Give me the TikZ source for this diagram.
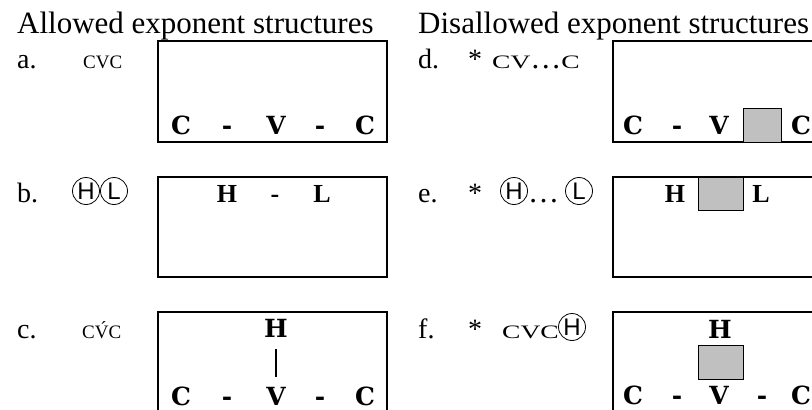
\documentclass[tikz,border=0pt]{standalone}
\usepackage{fontspec}
\setmainfont{Liberation Serif}
\newfontfamily\circfont{Liberation Sans}
\newfontfamily\segfont{DejaVu Serif}
\newfontfamily\widefont{Liberation Serif}[FakeStretch=1.45]
\definecolor{slot}{RGB}{192,192,192}
\newcommand\smc[1]{{\fontsize{19}{20}\selectfont#1}}
\newcommand\wsmc[1]{{\widefont\fontsize{19}{20}\selectfont#1}}
\tikzset{
  head/.style={inner sep=0pt,anchor=base west,font=\fontsize{31}{33}\selectfont},
  lbl/.style={inner sep=0pt,anchor=base west,font=\fontsize{28}{30}\selectfont},
  tc/.style={circle,draw,line width=.8pt,inner sep=0pt,minimum size=27pt,font=\circfont\fontsize{24}{26}\selectfont},
  seg/.style={inner sep=0pt,anchor=base,font=\segfont\bfseries\fontsize{25}{27}\selectfont},
  tone/.style={inner sep=0pt,anchor=base,font=\bfseries\fontsize{26}{28}\selectfont},
  exbox/.style={draw,line width=1.3pt},
  slotbox/.style={draw,fill=slot,line width=.9pt},
  link/.style={line width=2.4pt}
}
\begin{document}
\begin{tikzpicture}[x=1pt,y=-1pt]
    \clip(0,0)rectangle(812,410);
    % headings
    \node[head](hdA)at(17,33){Allowed exponent structures};
    \node[head](hdD)at(418,33){Disallowed exponent structures};
    % row labels
    \node[lbl](la)at(17,68){a.};
    \node[lbl](fa)at(83,68){\smc{CVC}};
    \node[lbl](lb)at(17,202){b.};
    \node[tc](fbH)at(86,191){H};
    \node[tc](fbL)at(114,191){L};
    \node[lbl](lc)at(17,338){c.};
    \node[lbl](fc)at(82,338){\smc{C\'VC}};
    \node[lbl](ld)at(418,68){d.};
    \node[lbl](sd)at(468,68){*};
    \node[lbl](fd)at(492,68){\wsmc{CV}{\fontsize{31}{33}\selectfont…}\wsmc{C}};
    \node[lbl](le)at(418,202){e.};
    \node[lbl](se)at(468,202){*};
    \node[tc](feH)at(514,191){H};
    \node[lbl](fe)at(528,202){{\fontsize{31}{33}\selectfont…}};
    \node[tc](feL)at(579,191){L};
    \node[lbl](lf)at(418,338){f.};
    \node[lbl](sf)at(468,338){*};
    \node[lbl](ff)at(502,338){\wsmc{CVC}};
    \node[tc](ffH)at(572,327){H};
    % boxes
    \draw[exbox](158,41)rectangle(387,142);
    \draw[exbox](158,177)rectangle(387,277);
    \draw[exbox](158,312)rectangle(387,430);
    \draw[exbox](613,41)rectangle(842,142);
    \draw[exbox](613,177)rectangle(842,277);
    \draw[exbox](613,312)rectangle(842,430);
    % gaps
    \filldraw[slotbox](743,108)rectangle(781,142);
    \filldraw[slotbox](698,177)rectangle(743,210);
    \filldraw[slotbox](698,345)rectangle(743,379);
    % a
    \foreach\x/\t/\n in{181/C/c1,227/-/d1,276/V/v,320/-/d2,365/C/c2}
    \node[seg](a\n)at(\x,134){\t};
    % b
    \foreach\x/\t/\n in{227/H/h,275/-/d,322/L/l}
    \node[tone](b\n)at(\x,202){\t};
    % c
    \foreach\x/\t/\n in{181/C/c1,227/-/d1,276/V/v,320/-/d2,365/C/c2}
    \node[seg](c\n)at(\x,405){\t};
    \node[seg](ch)at(276,337){H};
    \draw[link,shorten <=12pt,shorten >=28pt](ch.base)--(cv.base);
    % d
    \foreach\x/\t/\n in{633/C/c1,677/-/d1,719/V/v,801/C/c2}
    \node[seg](d\n)at(\x,134){\t};
    % e
    \node[tone](eh)at(675,202){H};
    \node[tone](el)at(761,202){L};
    % f
    \foreach\x/\t/\n in{633/C/c1,677/-/d1,719/V/v,762/-/d2,801/C/c2}
    \node[seg](f\n)at(\x,404){\t};
    \node[seg](fh)at(720,338){H};
\end{tikzpicture}
\end{document}
